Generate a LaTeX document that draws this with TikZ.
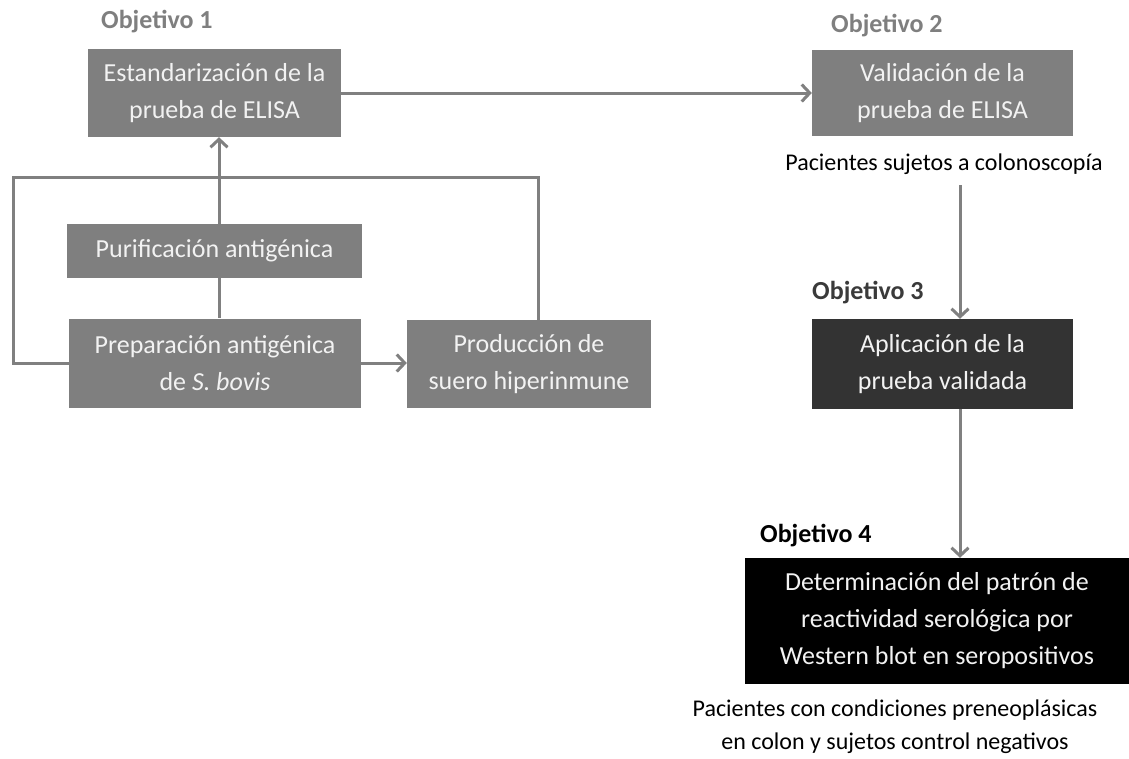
\documentclass[tikz,border=0pt]{standalone}
\usepackage{fontspec}
\setmainfont{Carlito}
\usetikzlibrary{arrows.meta}
\definecolor{boxgray}{HTML}{7F7F7F}
\definecolor{linegray}{HTML}{808080}
\definecolor{boxdark}{HTML}{333333}
\definecolor{boxtext}{HTML}{F2F2F2}
\definecolor{objdark}{HTML}{3A3A3A}
\tikzset{
  box/.style={rectangle, fill=boxgray, text=boxtext, inner sep=0pt, align=center,
    font=\fontsize{26}{37}\selectfont},
  objlabel/.style={anchor=west, inner sep=0pt, font=\fontsize{26}{30}\bfseries\selectfont},
  note/.style={inner sep=0pt, align=center, text=black, font=\fontsize{24}{33}\selectfont},
  conn/.style={draw=linegray, line width=3pt},
  arr/.style={conn, -{Straight Barb[length=8pt,width=17pt,line width=3pt]}}
}
\begin{document}
\begin{tikzpicture}[x=1pt,y=-1pt]
\useasboundingbox[fill=white] (0,0) rectangle (1129,758);

% boxes
\node[box, minimum width=253pt, minimum height=88pt] (est) at (214.5,93) {Estandarización de la\\prueba de ELISA};
\node[box, minimum width=261pt, minimum height=86pt] (val) at (942.5,93) {Validación de la\\prueba de ELISA};
\node[box, minimum width=295pt, minimum height=54pt] (pur) at (214.5,251) {Purificación antigénica};
\node[box, minimum width=292pt, minimum height=89pt] (prep) at (215,363) {Preparación antigénica\\de \textit{S. bovis}};
\node[box, minimum width=244pt, minimum height=88pt] (prod) at (529,364) {Producción de\\suero hiperinmune};
\node[box, fill=boxdark, minimum width=261pt, minimum height=90pt] (apl) at (942.5,364) {Aplicación de la\\prueba validada};
\node[box, fill=black, minimum width=384pt, minimum height=126pt] (det) at (937,621) {Determinación del patrón de\\reactividad serológica por\\Western blot en seropositivos};

% labels
\node[objlabel, text=boxgray] (o1) at (101,22) {Objetivo 1};
\node[objlabel, text=boxgray] (o2) at (831,26) {Objetivo 2};
\node[objlabel, text=objdark] (o3) at (812,293) {Objetivo 3};
\node[objlabel, text=black] (o4) at (760,536) {Objetivo 4};
\node[note] (pac1) at (944,164) {Pacientes sujetos a colonoscopía};
\node[note] (pac2) at (895,727) {Pacientes con condiciones preneoplásicas\\en colon y sujetos control negativos};

% connectors
\coordinate (fbl) at (13,177);
\coordinate (v1) at (960,185);
\draw[arr] (est.east) -- (est.east -| val.west);
\draw[arr] ([xshift=4.5pt]pur.north) -- ([xshift=4.5pt]pur.north |- est.south);
\draw[conn] ([xshift=4.5pt]pur.south) -- ([xshift=4.5pt]pur.south |- prep.north);
\draw[arr] (prep.east) -- (prep.east -| prod.west);
\draw[conn] ([xshift=9pt]prod.north) |- (fbl) |- (prep.west);
\draw[arr] (v1) -- (v1 |- apl.north);
\draw[arr] (apl.south -| v1) -- (v1 |- det.north);
\end{tikzpicture}
\end{document}
